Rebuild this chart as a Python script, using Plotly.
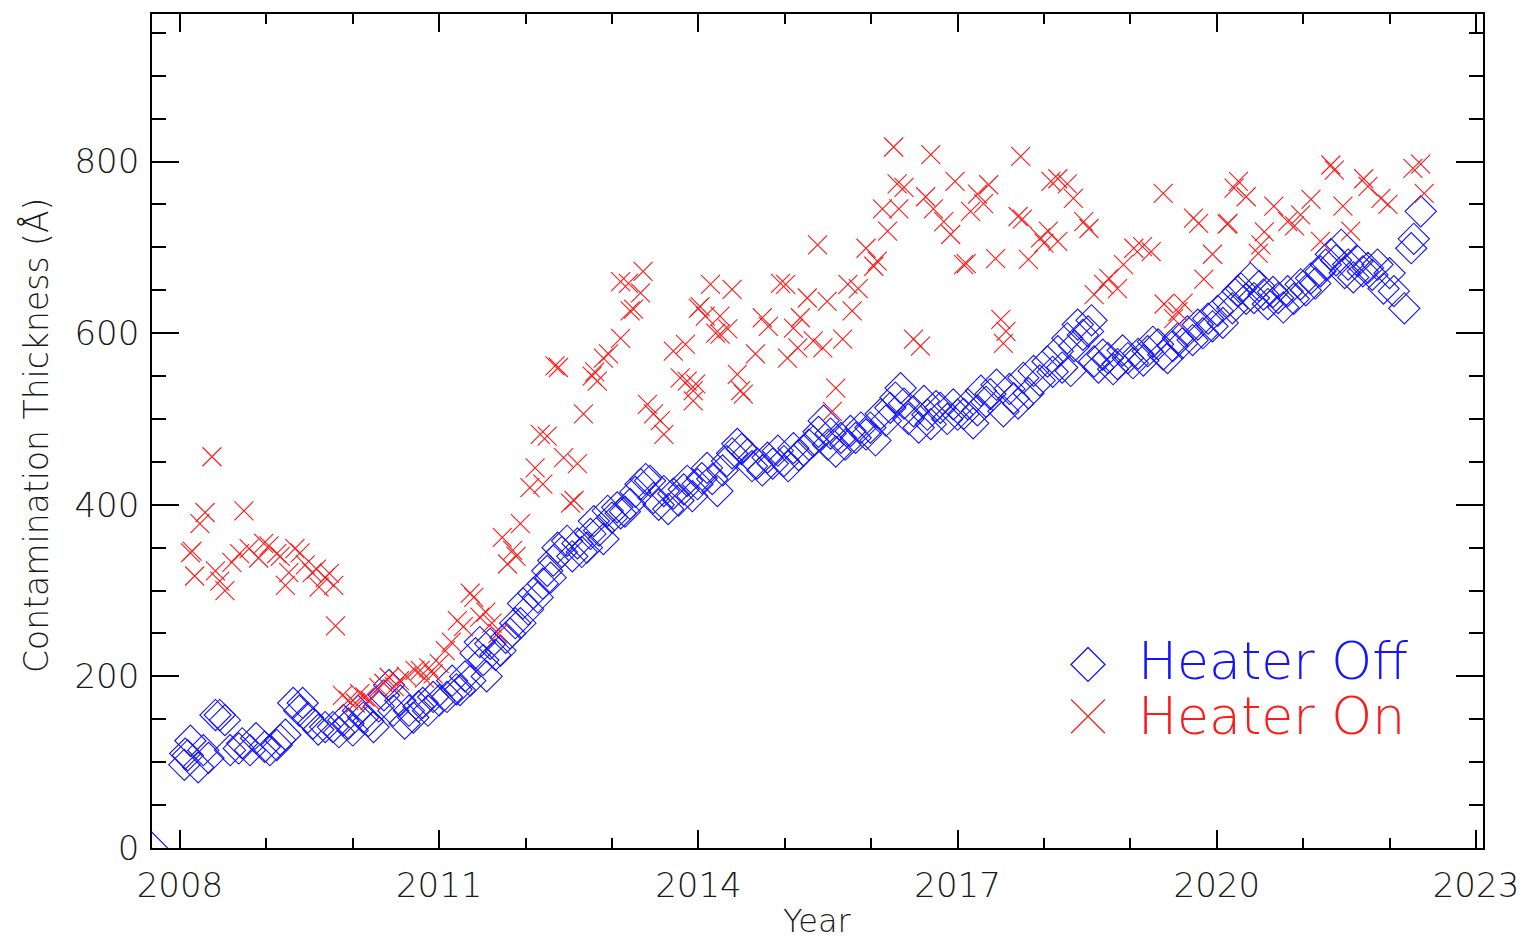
import plotly.graph_objects as go

# ---------------- data ----------------
off_year = [2007.676, 2008.06, 2008.09, 2008.05, 2008.12, 2008.21, 2008.27, 2008.33, 2008.41, 2008.46,
            2008.52, 2008.58, 2008.68, 2008.72, 2008.81, 2008.88, 2008.98, 2009.04, 2009.12, 2009.16,
            2009.22, 2009.31, 2009.38, 2009.42, 2009.48, 2009.54, 2009.6, 2009.68, 2009.77, 2009.84,
            2009.89, 2009.95, 2010.0, 2010.06, 2010.12, 2010.18, 2010.24, 2010.3, 2010.36, 2010.42,
            2010.47, 2010.55, 2010.6, 2010.65, 2010.7, 2010.76, 2010.81, 2010.87, 2010.93, 2011.0,
            2011.09, 2011.15, 2011.2, 2011.24, 2011.3, 2011.36, 2011.42, 2011.47, 2011.51, 2011.55,
            2011.59, 2011.65, 2011.71, 2011.77, 2011.82, 2011.88, 2011.94, 2011.97, 2012.03, 2012.09,
            2012.14, 2012.2, 2012.25, 2012.29, 2012.32, 2012.37, 2012.42, 2012.48, 2012.54, 2012.6,
            2012.65, 2012.71, 2012.75, 2012.79, 2012.85, 2012.9, 2012.95, 2013.0, 2013.06, 2013.1,
            2013.15, 2013.21, 2013.27, 2013.33, 2013.39, 2013.44, 2013.48, 2013.54, 2013.6, 2013.65,
            2013.71, 2013.77, 2013.83, 2013.87, 2013.93, 2013.99, 2014.04, 2014.1, 2014.16, 2014.22,
            2014.28, 2014.33, 2014.39, 2014.45, 2014.5, 2014.57, 2014.62, 2014.68, 2014.74, 2014.8,
            2014.86, 2014.92, 2014.99, 2015.04, 2015.1, 2015.16, 2015.22, 2015.28, 2015.33, 2015.39,
            2015.45, 2015.5, 2015.53, 2015.59, 2015.65, 2015.7, 2015.76, 2015.82, 2015.88, 2015.94,
            2015.99, 2016.05, 2016.11, 2016.17, 2016.22, 2016.28, 2016.34, 2016.38, 2016.43, 2016.49,
            2016.55, 2016.61, 2016.65, 2016.69, 2016.75, 2016.8, 2016.88, 2016.95, 2017.0, 2017.07,
            2017.12, 2017.18, 2017.23, 2017.27, 2017.33, 2017.38, 2017.45, 2017.53, 2017.6, 2017.65,
            2017.7, 2017.76, 2017.82, 2017.88, 2017.95, 2018.04, 2018.1, 2018.16, 2018.21, 2018.27,
            2018.31, 2018.35, 2018.39, 2018.45, 2018.51, 2018.55, 2018.58, 2018.63, 2018.68, 2018.74,
            2018.8, 2018.85, 2018.91, 2018.97, 2019.03, 2019.09, 2019.15, 2019.2, 2019.26, 2019.32,
            2019.38, 2019.43, 2019.49, 2019.55, 2019.6, 2019.66, 2019.72, 2019.78, 2019.84, 2019.9,
            2019.95, 2020.01, 2020.07, 2020.13, 2020.18, 2020.24, 2020.28, 2020.34, 2020.39, 2020.43,
            2020.49, 2020.54, 2020.59, 2020.65, 2020.71, 2020.77, 2020.82, 2020.89, 2020.97, 2021.03,
            2021.09, 2021.14, 2021.2, 2021.26, 2021.32, 2021.38, 2021.44, 2021.48, 2021.52, 2021.58,
            2021.63, 2021.69, 2021.75, 2021.8, 2021.86, 2021.93, 2022.0, 2022.05, 2022.17, 2022.25,
            2022.28, 2022.36]
off_thick = [0, 110, 108, 97, 125, 94, 114, 105, 155, 155,
             149, 114, 116, 122, 114, 128, 118, 114, 120, 126,
             132, 169, 160, 169, 152, 145, 138, 141, 141, 135,
             149, 145, 137, 160, 152, 148, 141, 165, 178, 190,
             160, 172, 145, 160, 152, 165, 169, 160, 176, 172,
             176, 195, 185, 184, 200, 195, 227, 240, 219, 200,
             238, 225, 230, 245, 250, 262, 262, 285, 278, 297,
             292, 308, 323, 315, 335, 350, 345, 358, 340, 355,
             345, 350, 366, 381, 370, 360, 393, 385, 397, 390,
             392, 401, 415, 424, 430, 428, 408, 400, 416, 395,
             413, 405, 418, 428, 410, 424, 431, 443, 430, 416,
             440, 451, 460, 471, 465, 459, 445, 448, 440, 455,
             448, 463, 451, 445, 466, 458, 463, 470, 474, 485,
             498, 470, 483, 462, 478, 470, 486, 478, 490, 482,
             490, 475, 506, 498, 513, 525, 536, 518, 500, 509,
             490, 521, 505, 494, 515, 513, 500, 517, 505, 506,
             517, 495, 510, 533, 520, 529, 540, 509, 535, 524,
             518, 548, 530, 556, 545, 567, 555, 579, 560, 594,
             556, 585, 610, 598, 602, 615, 567, 560, 575, 571,
             558, 564, 580, 571, 565, 576, 568, 579, 590, 587,
             575, 571, 585, 594, 588, 602, 592, 610, 600, 617,
             608, 626, 612, 637, 629, 649, 652, 640, 664, 641,
             655, 645, 634, 648, 641, 630, 649, 640, 657, 650,
             664, 658, 672, 680, 692, 685, 703, 670, 680, 665,
             684, 672, 676, 668, 680, 652, 670, 649, 629, 699,
             710, 742]

on_year = [2008.12, 2008.14, 2008.17, 2008.23, 2008.29, 2008.37, 2008.41, 2008.46, 2008.52, 2008.6,
           2008.69, 2008.74, 2008.8, 2008.91, 2008.97, 2009.03, 2009.12, 2009.16, 2009.22, 2009.26,
           2009.33, 2009.39, 2009.45, 2009.53, 2009.58, 2009.61, 2009.68, 2009.73, 2009.78, 2009.8,
           2009.88, 2009.95, 2010.03, 2010.08, 2010.14, 2010.2, 2010.3, 2010.36, 2010.42, 2010.48,
           2010.54, 2010.62, 2010.72, 2010.78, 2010.83, 2010.88, 2010.93, 2011.0, 2011.07, 2011.14,
           2011.21, 2011.28, 2011.36, 2011.4, 2011.47, 2011.54, 2011.61, 2011.68, 2011.73, 2011.79,
           2011.85, 2011.89, 2011.94, 2012.05, 2012.11, 2012.17, 2012.2, 2012.25, 2012.34, 2012.38,
           2012.44, 2012.52, 2012.56, 2012.6, 2012.67, 2012.77, 2012.8, 2012.83, 2012.9, 2012.96,
           2013.1, 2013.1, 2013.19, 2013.21, 2013.25, 2013.33, 2013.36, 2013.41, 2013.48, 2013.56,
           2013.6, 2013.71, 2013.79, 2013.85, 2013.87, 2013.94, 2013.94, 2013.97, 2014.0, 2014.02,
           2014.08, 2014.14, 2014.2, 2014.25, 2014.25, 2014.34, 2014.39, 2014.45, 2014.49, 2014.52,
           2014.66, 2014.74, 2014.81, 2014.95, 2015.01, 2015.03, 2015.1, 2015.15, 2015.18, 2015.26,
           2015.33, 2015.38, 2015.44, 2015.49, 2015.55, 2015.59, 2015.67, 2015.73, 2015.78, 2015.85,
           2015.94, 2016.03, 2016.07, 2016.13, 2016.19, 2016.26, 2016.3, 2016.32, 2016.38, 2016.49,
           2016.57, 2016.63, 2016.69, 2016.72, 2016.84, 2016.92, 2016.97, 2017.07, 2017.1, 2017.15,
           2017.23, 2017.3, 2017.36, 2017.44, 2017.5, 2017.53, 2017.56, 2017.7, 2017.73, 2017.75,
           2017.82, 2017.96, 2018.0, 2018.05, 2018.08, 2018.16, 2018.16, 2018.27, 2018.34, 2018.46,
           2018.52, 2018.58, 2018.69, 2018.75, 2018.85, 2018.92, 2019.04, 2019.14, 2019.24, 2019.38,
           2019.39, 2019.5, 2019.55, 2019.61, 2019.73, 2019.79, 2019.85, 2019.95, 2020.12, 2020.13,
           2020.2, 2020.25, 2020.34, 2020.48, 2020.51, 2020.55, 2020.66, 2020.82, 2020.9, 2020.97,
           2021.09, 2021.2, 2021.32, 2021.36, 2021.46, 2021.55, 2021.7, 2021.75, 2021.9, 2021.98,
           2022.27, 2022.36, 2022.4]
on_thick = [344, 346, 317, 378, 391, 456, 323, 311, 300, 333,
            343, 393, 349, 338, 355, 352, 343, 340, 306, 321,
            349, 344, 330, 321, 325, 304, 315, 320, 306, 259,
            178, 172, 169, 180, 176, 172, 187, 192, 199, 188,
            195, 200, 207, 207, 198, 210, 203, 215, 230, 240,
            265, 258, 297, 292, 269, 275, 262, 250, 362, 331,
            347, 340, 378, 420, 443, 482, 424, 480, 562, 560,
            455, 402, 405, 448, 506, 550, 555, 544, 571, 576,
            594, 660, 658, 626, 628, 647, 672, 517, 506, 498,
            482, 579, 548, 587, 544, 533, 521, 541, 629, 631,
            620, 657, 600, 620, 599, 605, 651, 552, 533, 529,
            576, 618, 608, 658, 657, 571, 606, 583, 618, 641,
            591, 703, 583, 637, 509, 536, 593, 657, 626, 652,
            699, 678, 684, 745, 719, 817, 774, 745, 770, 593,
            585, 759, 808, 745, 730, 715, 777, 680, 681, 742,
            762, 751, 773, 687, 616, 588, 602, 736, 806, 733,
            686, 711, 705, 719, 777, 780, 707, 774, 757, 730,
            722, 645, 657, 664, 652, 680, 699, 701, 695, 763,
            634, 617, 625, 635, 734, 728, 663, 692, 727, 728,
            769, 777, 759, 693, 703, 718, 748, 730, 725, 738,
            756, 707, 796, 790, 748, 719, 780, 771, 757, 750,
            792, 797, 763]

x_ticks = [2008, 2011, 2014, 2017, 2020, 2023]
y_ticks = [0, 200, 400, 600, 800]
legend_labels = ["Heater Off", "Heater On"]

BLUE = "#1414ff"
RED = "#ff1a1a"
FONT = "DejaVu Sans"
TXT = "#1a1a1a"

# ---------------- geometry (page pixels; page body adds an 8px offset) ----------------
OFF = 8
W, H = 1525 - OFF, 942 - OFF
L, R, T, B = 152 - OFF, 1483 - OFF, 12 - OFF, 848 - OFF
pw, ph = R - L, B - T


def px(p):
    return (p - OFF - L) / pw


def py(p):
    return (B - (p - OFF)) / ph


fig = go.Figure()
fig.add_trace(go.Scatter(
    x=off_year, y=off_thick, mode="markers", name=legend_labels[0], showlegend=False,
    marker=dict(symbol="diamond-open", size=24, color=BLUE, line=dict(width=1.1, color=BLUE)),
    cliponaxis=True,
))
fig.add_trace(go.Scatter(
    x=on_year, y=on_thick, mode="markers", name=legend_labels[1], showlegend=False,
    marker=dict(symbol="x-thin-open", size=19, color=RED, line=dict(width=1.1, color=RED)),
    cliponaxis=True,
))

axis_common = dict(
    showline=True, linecolor="black", linewidth=1.6, mirror="allticks",
    ticks="inside", tickcolor="black", tickwidth=1.6,
    showgrid=False, zeroline=False,
    tickfont=dict(family=FONT, size=34, color=TXT, weight=200),
)

fig.update_xaxes(
    range=[2007.676, 2023.081], tickvals=x_ticks, ticktext=[str(v) for v in x_ticks],
    ticklen=18, ticklabelstandoff=6,
    minor=dict(dtick=1, tick0=2008, ticklen=10, ticks="inside", tickcolor="black", tickwidth=1.6, showgrid=False),
    **axis_common,
)
fig.update_yaxes(
    range=[0, 972], tickvals=y_ticks, ticktext=[str(v) for v in y_ticks],
    ticklen=27, ticklabelstandoff=4,
    minor=dict(dtick=50, tick0=0, ticklen=14, ticks="inside", tickcolor="black", tickwidth=1.6, showgrid=False),
    **axis_common,
)

annotations = [
    dict(text="Year", x=0.5, y=py(942), xref="paper", yref="paper", showarrow=False,
         xanchor="center", yanchor="bottom", font=dict(family=FONT, size=32, color=TXT, weight=200)),
    dict(text="Contamination Thickness (Å)", x=px(37), y=py(435), xref="paper", yref="paper",
         showarrow=False, textangle=-90, xanchor="center", yanchor="middle",
         font=dict(family=FONT, size=33, color=TXT, weight=200)),
    dict(text=legend_labels[0], x=px(1136), y=py(661), xref="paper", yref="paper", showarrow=False,
         xanchor="left", yanchor="middle", font=dict(family=FONT, size=52, color=BLUE, weight=200)),
    dict(text=legend_labels[1], x=px(1136), y=py(716), xref="paper", yref="paper", showarrow=False,
         xanchor="left", yanchor="middle", font=dict(family=FONT, size=52, color=RED, weight=200)),
]

cx, cy1, cy2, hs = 1088, 664, 716, 17
diamond_path = "M {} {} L {} {} L {} {} L {} {} Z".format(
    px(cx - hs), py(cy1), px(cx), py(cy1 - hs), px(cx + hs), py(cy1), px(cx), py(cy1 + hs))
x_path = "M {} {} L {} {} M {} {} L {} {}".format(
    px(cx - hs), py(cy2 - hs), px(cx + hs), py(cy2 + hs), px(cx - hs), py(cy2 + hs), px(cx + hs), py(cy2 - hs))
shapes = [
    dict(type="path", xref="paper", yref="paper", path=diamond_path, line=dict(color=BLUE, width=1.3)),
    dict(type="path", xref="paper", yref="paper", path=x_path, line=dict(color=RED, width=1.3)),
]

fig.update_layout(
    width=W, height=H,
    margin=dict(l=L, r=W - R, t=T, b=H - B, pad=0),
    paper_bgcolor="white", plot_bgcolor="white",
    annotations=annotations, shapes=shapes,
    showlegend=False,
)

fig.write_html("out.html")
